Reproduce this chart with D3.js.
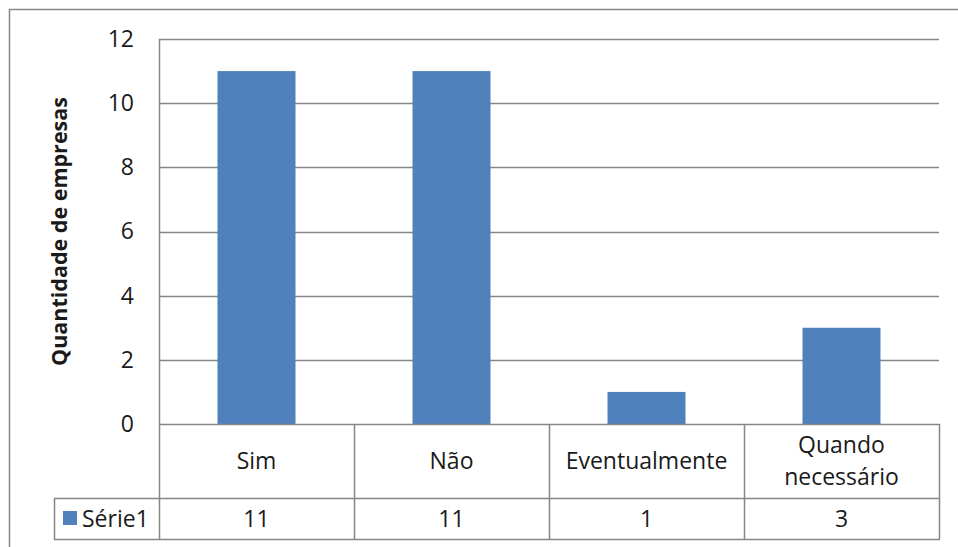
<!DOCTYPE html>
<html>
<head>
<meta charset="utf-8">
<script src="https://cdn.jsdelivr.net/npm/d3@7"></script>
<style>
  body { margin: 0; background: #fff; }
  svg text { font-family: "Open Sans", "Liberation Sans", sans-serif; fill: #1a1a1a; }
</style>
</head>
<body>
<script>
// Chart data
const categories = ["Sim", "Não", "Eventualmente", "Quando necessário"];
const categoryLines = [["Sim"], ["Não"], ["Eventualmente"], ["Quando", "necessário"]];
const seriesName = "Série1";
const values = [11, 11, 1, 3];
const yTicks = [0, 2, 4, 6, 8, 10, 12];
const yTitle = "Quantidade de empresas";

const W = 958, H = 547;
const plot = { left: 159, right: 939, top: 39, bottom: 424 };
const row1Bottom = 498, row2Bottom = 539, legendLeft = 54;
const gridColor = "#868686";
const barColor = "#4F81BD";
const fs = 23;

const svg = d3.select("body").append("svg")
  .attr("width", W).attr("height", H);

// outer chart frame (runs past the window on right and bottom)
svg.append("rect")
  .attr("x", 9.5).attr("y", 9.5)
  .attr("width", W + 20).attr("height", H + 20)
  .attr("fill", "none").attr("stroke", "#878787").attr("stroke-width", 1.5);

const x = d3.scaleBand().domain(categories).range([plot.left, plot.right]).paddingInner(0.6).paddingOuter(0.3);
const xCell = d3.scaleBand().domain(categories).range([plot.left, plot.right]);
const y = d3.scaleLinear().domain([0, 12]).range([plot.bottom, plot.top]);

// gridlines
svg.append("g").selectAll("line").data(yTicks.filter(d => d > 0)).join("line")
  .attr("x1", plot.left).attr("x2", plot.right)
  .attr("y1", d => Math.round(y(d)) + 0.5).attr("y2", d => Math.round(y(d)) + 0.5)
  .attr("stroke", gridColor).attr("stroke-width", 1.5);

// y axis labels
const yAxis = d3.axisLeft(y).tickValues(yTicks).tickSize(0).tickPadding(0);
const ya = svg.append("g").attr("transform", `translate(134,0)`).call(yAxis);
ya.select(".domain").remove();
ya.selectAll("text").attr("font-size", fs).attr("fill", "#1a1a1a")
  .attr("font-family", "'Open Sans', 'Liberation Sans', sans-serif");

// plot left border
svg.append("line").attr("x1", plot.left + 0.5).attr("x2", plot.left + 0.5)
  .attr("y1", plot.top).attr("y2", row2Bottom)
  .attr("stroke", gridColor).attr("stroke-width", 1.5);

// bars
svg.append("g").selectAll("rect").data(values).join("rect")
  .attr("x", (d, i) => x(categories[i]))
  .attr("width", x.bandwidth())
  .attr("y", d => y(d))
  .attr("height", d => y(0) - y(d))
  .attr("fill", barColor);

// data table grid
const t = svg.append("g").attr("stroke", gridColor).attr("stroke-width", 1.5).attr("fill", "none");
t.append("line").attr("x1", plot.left).attr("x2", plot.right + 1).attr("y1", plot.bottom + 0.5).attr("y2", plot.bottom + 0.5);
t.append("line").attr("x1", legendLeft).attr("x2", plot.right + 1).attr("y1", row1Bottom + 0.5).attr("y2", row1Bottom + 0.5);
t.append("line").attr("x1", legendLeft).attr("x2", plot.right + 1).attr("y1", row2Bottom + 0.5).attr("y2", row2Bottom + 0.5);
t.append("line").attr("x1", legendLeft + 0.5).attr("x2", legendLeft + 0.5).attr("y1", row1Bottom).attr("y2", row2Bottom);
categories.forEach(c => {
  const xr = Math.round(xCell(c) + xCell.bandwidth()) + 0.5;
  t.append("line").attr("x1", xr).attr("x2", xr).attr("y1", plot.bottom).attr("y2", row2Bottom);
});

// category labels and values
categories.forEach((c, i) => {
  const cx = xCell(c) + xCell.bandwidth() / 2;
  const lines = categoryLines[i];
  const mid = (plot.bottom + row1Bottom) / 2;
  lines.forEach((ln, j) => {
    svg.append("text").attr("x", cx)
      .attr("y", mid + (j - (lines.length - 1) / 2) * 32 + 8)
      .attr("text-anchor", "middle").attr("font-size", fs).text(ln);
  });
  svg.append("text").attr("x", cx).attr("y", (row1Bottom + row2Bottom) / 2 + 8)
    .attr("text-anchor", "middle").attr("font-size", fs).text(values[i]);
});

// legend key in the table
svg.append("rect").attr("x", 63).attr("y", 511).attr("width", 14).attr("height", 14).attr("fill", barColor);
svg.append("text").attr("x", 82).attr("y", 527).attr("font-size", fs).text(seriesName);

// y axis title
svg.append("text")
  .attr("transform", `translate(67,${(plot.top + plot.bottom) / 2}) rotate(-90)`)
  .attr("text-anchor", "middle").attr("font-size", 21.5).attr("font-weight", "bold")
  .text(yTitle);
</script>
</body>
</html>
